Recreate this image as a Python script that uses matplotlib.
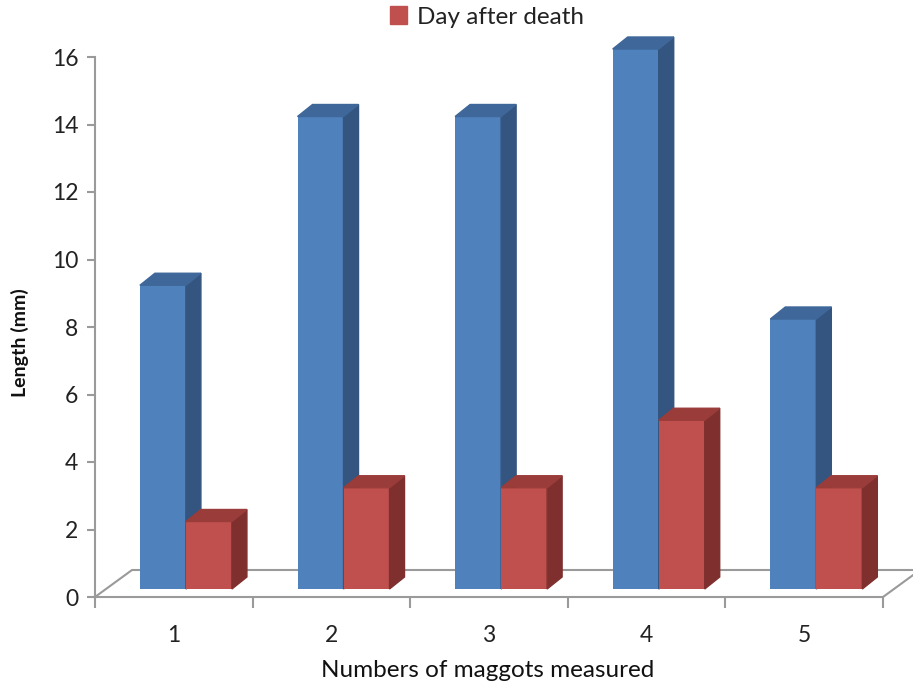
import matplotlib.pyplot as plt
from matplotlib.patches import Polygon, Patch
import numpy as np

plt.rcParams['font.family'] = ['Lato', 'DejaVu Sans']

categories = ['1', '2', '3', '4', '5']
length_mm = [9, 14, 14, 16, 8]          # blue series
day_after_death = [2, 3, 3, 5, 3]       # red series

W, H = 913, 684
fig = plt.figure(figsize=(W / 100, H / 100), dpi=100)
# axes: x=95px is 0.5, y=597px is 0
ax = fig.add_axes([95 / W, (H - 597) / H, (W - 95) / W, 597 / H])
px_x = 157.6   # px per category
px_y = 33.75   # px per mm
ax.set_xlim(0.5, 0.5 + (W - 95) / px_x)
ax.set_ylim(0, 597 / px_y)

grey = '#9a9a9a'
for s in ['top', 'right']:
    ax.spines[s].set_visible(False)
ax.spines['left'].set_bounds(0, 16)
ax.spines['bottom'].set_bounds(0.5, 5.5)
for s in ['left', 'bottom']:
    ax.spines[s].set_color(grey)
    ax.spines[s].set_linewidth(1.5)

ax.set_yticks(np.arange(0, 17, 2))
ax.tick_params(axis='y', direction='out', length=6, width=1.5, color=grey,
               labelsize=16.5, pad=6, labelcolor='#222222')
x = np.arange(1, 6)
ax.set_xticks(x)
ax.set_xticklabels(categories)
ax.set_xticks(np.arange(0.5, 6, 1), minor=True)
ax.tick_params(axis='x', which='major', length=0, labelsize=16.5, pad=20,
               labelcolor='#222222')
ax.tick_params(axis='x', which='minor', direction='out', length=8, width=1.5,
               color=grey)

# floor of the 3d plot
fdx, fdy = 37 / px_x, 27 / px_y
ax.plot([0.5, 0.5 + fdx, 5.5 + fdx + 0.3], [0, fdy, fdy], color=grey, lw=1.5,
        clip_on=False, zorder=1)
ax.plot([5.5, 5.5 + fdx], [0, fdy], color=grey, lw=1.5, clip_on=False, zorder=1)

# bars with fake depth
base = 8 / px_y
bw = 46 / px_x
ddx, ddy = 15 / px_x, 12 / px_y
left0 = -0.215

def bars3d(xs, vals, front, side, top, z):
    ax.bar(xs, vals, width=bw, bottom=base, align='edge', color=front,
           zorder=z)
    for xl, v in zip(xs, vals):
        xr = xl + bw
        yt = base + v
        ax.add_patch(Polygon([(xr, base), (xr + ddx, base + ddy),
                              (xr + ddx, yt + ddy), (xr, yt)],
                             closed=True, color=side, zorder=z))
        ax.add_patch(Polygon([(xl, yt), (xl + ddx, yt + ddy),
                              (xr + ddx, yt + ddy), (xr, yt)],
                             closed=True, color=top, zorder=z))

bars3d(x + left0, length_mm, '#4f81bd', '#34557f', '#3f679a', 3)
bars3d(x + left0 + bw, day_after_death, '#c0504d', '#7f302e', '#9a3c3a', 4)

ax.set_xlabel('Numbers of maggots measured', fontsize=17.5, color='#111111')
ax.xaxis.set_label_coords((488 - 95) / (W - 95), -63 / 597)
fig.text(20 / W, 1 - 343 / H, 'Length (mm)', rotation=90, fontsize=14,
         fontweight='bold', ha='center', va='center', color='#111111')

fig.legend(handles=[Patch(color='#c0504d', label='Day after death')],
           loc='center', bbox_to_anchor=(487 / W, 1 - 17 / H), frameon=False,
           fontsize=17.5, handlelength=0.7, handleheight=0.7, handletextpad=0.4,
           labelcolor='#222222')

fig.savefig('out.png', dpi=100)
